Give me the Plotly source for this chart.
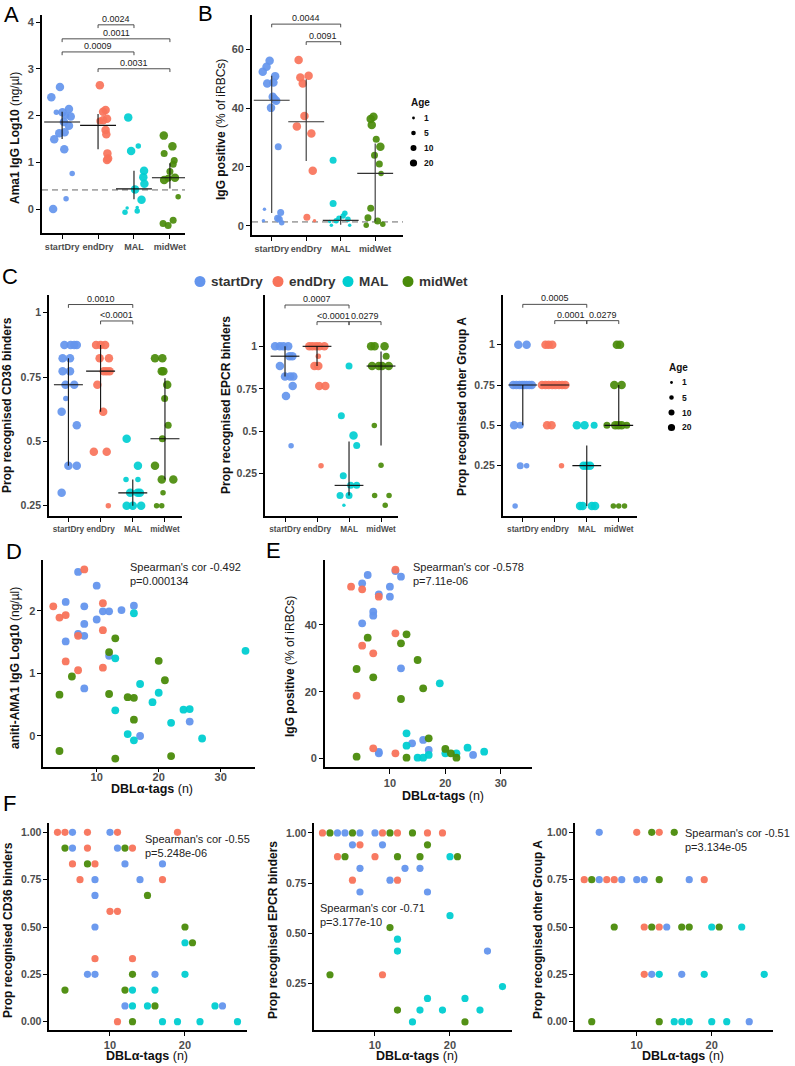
import plotly.graph_objects as go

W, H = 795, 1066
FONT = "Liberation Sans, Arial, Helvetica, sans-serif"
GROUPS = ["startDry", "endDry", "MAL", "midWet"]
COLORS = ["#6495ED", "#F8735A", "#00CED1", "#4A8B0A"]
AGE_LEVELS = [1, 5, 10, 20]
AGE_SIZE = {1: 3.5, 5: 5.5, 10: 7, 20: 8.5}

# ---------------- Panel A: Ama1 IgG Log10 (value, jitter, age) ----------------
A_startDry = [(2.61, -0.06, 20), (2.39, -0.30, 20), (2.14, 0.19, 20), (2.07, 0.01, 20), (2.07, -0.16, 5),
              (1.98, 0.24, 20), (2.00, 0.10, 10), (1.86, 0.05, 20), (1.78, 0.19, 20), (1.64, 0.07, 20),
              (1.62, -0.08, 20), (1.49, -0.22, 20), (1.28, 0.06, 20), (0.76, 0.28, 5), (0.22, 0.11, 5),
              (0.00, -0.25, 20)]
A_endDry = [(2.65, 0.05, 20), (2.12, 0.21, 20), (2.08, 0.14, 20), (1.93, 0.25, 20), (1.90, 0.14, 20),
            (1.88, 0.05, 10), (1.69, 0.21, 20), (1.60, 0.23, 20), (1.19, 0.26, 20), (1.08, 0.28, 20),
            (1.05, 0.25, 20)]
A_MAL = [(1.96, -0.16, 20), (1.35, 0.12, 5), (1.24, -0.08, 20), (0.82, 0.28, 20), (0.68, 0.26, 20),
         (0.54, 0.29, 20), (0.42, 0.03, 20), (0.20, 0.21, 20), (0.02, -0.19, 1), (0.03, 0.09, 1),
         (-0.04, 0.09, 5), (-0.07, -0.25, 5)]
A_midWet = [(1.57, -0.17, 20), (1.34, 0.07, 20), (1.19, -0.16, 10), (1.04, 0.12, 10), (0.96, 0.09, 10),
            (0.80, 0.00, 10), (0.67, 0.14, 20), (0.66, -0.05, 10), (0.62, -0.16, 20), (0.26, 0.23, 5),
            (-0.24, 0.09, 10), (-0.31, -0.19, 10), (-0.35, -0.05, 10)]
A_median = [1.86, 1.79, 0.43, 0.67]
A_low = [1.50, 1.28, 0.21, 0.44]
A_high = [2.08, 2.03, 0.82, 0.98]
A_cutoff = 0.41
A_pvals = [(1, 2, 3.94, "0.0024"), (0, 3, 3.64, "0.0011"), (0, 2, 3.36, "0.0009"), (1, 3, 3.00, "0.0031")]

# ---------------- Panel B: IgG positive % ----------------
B_startDry = [(56.1, -0.06, 20), (54.1, -0.15, 20), (52.4, -0.26, 20), (50.9, 0.10, 20), (48.4, -0.13, 20),
              (48.7, 0.05, 20), (43.9, 0.03, 20), (43.1, 0.08, 20), (42.5, 0.13, 20), (40.1, -0.02, 20),
              (26.9, 0.19, 10), (5.6, -0.21, 1), (4.5, 0.26, 10), (2.5, 0.17, 10), (2.2, 0.22, 10),
              (1.7, -0.24, 1), (1.0, 0.29, 5)]
B_endDry = [(56.4, -0.22, 20), (50.4, -0.17, 20), (51.0, 0.07, 20), (48.4, -0.10, 20), (37.3, -0.05, 20),
            (33.8, -0.27, 20), (31.4, 0.15, 20), (18.7, 0.19, 20), (2.9, 0.02, 10), (1.7, 0.24, 1)]
B_MAL = [(22.3, -0.22, 10), (7.6, -0.22, 10), (4.2, 0.12, 5), (3.3, 0.07, 5), (2.5, -0.05, 5),
         (2.2, 0.21, 5), (1.7, -0.13, 5), (1.4, -0.32, 1), (0.2, -0.27, 1), (0.2, 0.26, 1)]
B_midWet = [(36.3, -0.13, 20), (37.1, -0.05, 20), (34.3, -0.10, 20), (29.4, 0.03, 10), (26.9, 0.15, 20),
            (24.0, -0.02, 10), (21.0, 0.12, 10), (17.8, 0.17, 5), (5.9, -0.13, 10), (2.7, -0.21, 10),
            (1.6, 0.07, 10), (0.2, -0.26, 5), (0.5, 0.22, 5)]
B_median = [42.7, 35.4, 1.8, 17.8]
B_low = [4.3, 22.0, 0.3, 1.5]
B_high = [51.0, 49.8, 3.3, 28.0]
B_cutoff = 1.3
B_pvals = [(0, 2, 68.6, "0.0044"), (1, 2, 62.6, "0.0091")]

# ---------------- Panel C: CD36 ----------------
CD36_startDry = [(0.875, -0.125, 20), (0.875, 0.07, 20), (0.875, 0.18, 20), (0.875, 0.26, 20), (0.823, -0.18, 20),
                 (0.823, 0.05, 20), (0.773, -0.18, 20), (0.773, 0.05, 20), (0.72, -0.09, 20), (0.72, 0.18, 20),
                 (0.667, -0.08, 5), (0.615, -0.21, 20), (0.563, 0.26, 20), (0.405, 0.0, 20), (0.405, 0.26, 20),
                 (0.30, -0.21, 20)]
CD36_endDry = [(0.875, -0.14, 20), (0.875, 0.0, 20), (0.875, 0.14, 20), (0.823, -0.03, 20), (0.823, 0.26, 20),
               (0.773, 0.10, 20), (0.773, 0.19, 20), (0.773, 0.28, 20), (0.72, -0.10, 20), (0.615, 0.08, 20),
               (0.46, -0.21, 20), (0.46, 0.19, 20), (0.25, 0.24, 5)]
CD36_MAL = [(0.51, -0.19, 20), (0.405, 0.16, 20), (0.352, -0.21, 5), (0.352, 0.16, 5), (0.30, -0.08, 20),
            (0.30, 0.15, 20), (0.30, 0.22, 20), (0.25, -0.19, 20), (0.25, 0.0, 20), (0.25, 0.26, 20)]
CD36_midWet = [(0.823, -0.31, 20), (0.823, -0.08, 20), (0.773, -0.10, 20), (0.773, -0.05, 20), (0.72, 0.07, 20),
               (0.667, -0.01, 10), (0.563, 0.10, 10), (0.51, -0.08, 10), (0.405, -0.31, 20), (0.352, -0.10, 20),
               (0.352, 0.26, 20), (0.30, -0.06, 5), (0.25, -0.26, 5), (0.25, -0.10, 5)]
CD36_median = [0.72, 0.773, 0.30, 0.51]
CD36_low = [0.405, 0.615, 0.25, 0.352]
CD36_high = [0.823, 0.875, 0.352, 0.745]
CD36_pvals = [(0, 2, 1.032, "0.0010"), (1, 2, 0.968, "&lt;0.0001")]

# ---------------- Panel C: EPCR ----------------
EPCR_startDry = [(1.0, -0.31, 20), (1.0, -0.16, 20), (1.0, -0.05, 20), (1.0, 0.10, 20), (0.942, 0.14, 20),
                 (0.942, 0.23, 20), (0.884, -0.16, 20), (0.822, 0.0, 20), (0.822, 0.16, 20), (0.822, 0.26, 20),
                 (0.767, 0.24, 20), (0.708, 0.03, 20), (0.415, 0.19, 5)]
EPCR_endDry = [(1.0, -0.24, 20), (1.0, -0.14, 20), (1.0, -0.03, 20), (1.0, 0.07, 20), (1.0, 0.23, 20),
               (0.942, 0.04, 5), (0.884, -0.08, 20), (0.884, 0.04, 20), (0.767, 0.07, 20), (0.767, 0.26, 20),
               (0.297, 0.125, 5)]
EPCR_MAL = [(0.884, 0.0, 10), (0.591, -0.24, 10), (0.476, 0.14, 20), (0.417, 0.24, 10), (0.239, -0.18, 10),
            (0.182, 0.05, 10), (0.182, 0.24, 10), (0.123, -0.28, 10), (0.123, 0.0, 10), (0.065, -0.16, 1)]
EPCR_midWet = [(1.0, -0.31, 20), (1.0, -0.20, 20), (1.0, 0.11, 20), (0.942, 0.16, 10), (0.884, -0.28, 20),
               (0.884, -0.07, 20), (0.884, 0.03, 20), (0.884, 0.24, 20), (0.534, -0.21, 5), (0.30, 0.0, 5),
               (0.123, -0.20, 5), (0.123, 0.25, 5), (0.065, 0.13, 5)]
EPCR_median = [0.942, 1.0, 0.182, 0.884]
EPCR_low = [0.822, 0.884, 0.123, 0.417]
EPCR_high = [1.0, 1.0, 0.44, 0.97]
EPCR_pvals = [(0, 2, 1.243, "0.0007"), (1, 2, 1.145, "&lt;0.0001"), (2, 3, 1.145, "0.0279")]

# ---------------- Panel C: other Group A ----------------
OTH_startDry = [(1.0, -0.14, 20), (1.0, 0.12, 20), (0.75, -0.30, 20), (0.75, -0.20, 20), (0.75, -0.10, 20),
                (0.75, -0.02, 20), (0.75, 0.05, 20), (0.75, 0.12, 20), (0.75, 0.20, 20), (0.75, 0.28, 20),
                (0.5, -0.27, 20), (0.5, -0.08, 10), (0.25, -0.08, 10), (0.25, 0.12, 5), (0.0, -0.24, 5)]
OTH_endDry = [(1.0, -0.29, 20), (1.0, -0.19, 20), (1.0, -0.08, 20), (0.75, -0.40, 20), (0.75, -0.29, 20),
              (0.75, -0.19, 20), (0.75, -0.08, 20), (0.75, 0.02, 20), (0.75, 0.13, 20), (0.75, 0.23, 20),
              (0.75, 0.33, 20), (0.5, -0.24, 20), (0.5, -0.10, 20), (0.25, 0.21, 5)]
OTH_MAL = [(0.5, -0.31, 20), (0.5, -0.07, 20), (0.5, 0.23, 10), (0.25, -0.10, 20), (0.25, 0.0, 20),
           (0.25, 0.10, 20), (0.0, -0.21, 20), (0.0, -0.13, 20), (0.0, 0.16, 20), (0.0, 0.26, 20)]
OTH_midWet = [(1.0, -0.06, 20), (1.0, 0.04, 20), (0.75, -0.14, 20), (0.75, 0.09, 20), (0.5, -0.37, 10),
              (0.5, -0.11, 20), (0.5, -0.01, 20), (0.5, 0.09, 20), (0.5, 0.25, 10), (0.0, -0.17, 5),
              (0.0, 0.0, 5), (0.0, 0.18, 5)]
OTH_median = [0.75, 0.75, 0.25, 0.5]
OTH_low = [0.5, 0.75, 0.0, 0.5]
OTH_high = [0.75, 0.75, 0.375, 0.75]
OTH_pvals = [(0, 2, 1.25, "0.0005"), (1, 2, 1.149, "0.0001"), (2, 3, 1.149, "0.0279")]

# ---------------- Panel D: DBLa tags vs AMA1 ----------------
D_startDry = [(7, 2.62), (5, 2.14), (5, 1.51), (10, 2.40), (8, 2.07), (8, 1.79), (8, 1.60), (7, 1.63), (10, 1.86),
              (11, 1.99), (12, 1.99), (14, 2.01), (16, 2.08), (12, 1.28), (8, 0.76), (17, 0.0), (25, 0.23)]
D_endDry = [(8, 2.66), (3, 2.07), (4, 1.89), (5, 1.93), (11, 2.12), (11, 1.69), (7, 1.60), (5, 1.19), (7, 1.05),
            (11, 1.09)]
D_MAL = [(16, 1.96), (34, 1.36), (13, 1.24), (17, 0.83), (20, 0.69), (19, 0.54), (24, 0.42), (25, 0.43), (13, 0.41),
         (22, 0.21), (15, 0.03), (16, -0.07), (27, -0.04)]
D_midWet = [(13, 1.56), (12, 1.34), (20, 1.20), (6, 0.95), (21, 0.89), (12, 0.67), (4, 0.66), (15, 0.62), (16, 0.61),
            (16, 0.26), (4, -0.24), (13, -0.36), (22, -0.32)]

# ---------------- Panel E: DBLa tags vs IgG positive ----------------
E_startDry = [(5, 52.5), (6, 55.0), (5, 40.5), (7, 44.0), (7, 42.8), (8, 49.2), (10, 51.5), (10, 48.5), (11, 56.2),
              (12, 54.5), (12, 27.0), (16, 5.5), (14, 4.5), (17, 2.5), (8, 1.9), (8, 1.5), (25, 1.0)]
E_endDry = [(11, 56.6), (3, 51.5), (5, 50.7), (8, 48.5), (11, 37.5), (5, 33.8), (7, 31.5), (4, 18.8), (7, 3.0),
            (11, 1.5)]
E_MAL = [(19, 22.5), (13, 7.5), (13, 3.8), (17, 1.0), (15, 0.2), (16, 0.2), (20, 1.5), (22, 1.5), (24, 3.2),
         (27, 2.0)]
E_midWet = [(13, 37.2), (6, 36.2), (12, 34.5), (15, 29.5), (4, 26.8), (7, 24.3), (16, 21.0), (12, 17.8), (17, 6.0),
            (20, 2.8), (21, 1.5), (4, 0.5), (13, 0.2), (22, 0.2)]

# ---------------- Panel F ----------------
F1_startDry = [(5, 1.0), (10, 1.0), (5, 0.917), (11, 0.917), (12, 0.833), (17, 0.833), (8, 0.75), (14, 0.75),
               (8, 0.667), (8, 0.5), (7, 0.25), (8, 0.25), (16, 0.25), (12, 0.083), (25, 0.083)]
F1_endDry = [(3, 1.0), (4, 1.0), (7, 1.0), (11, 1.0), (19, 1.0), (7, 0.917), (13, 0.917), (5, 0.833), (8, 0.833),
             (6, 0.75), (17, 0.75), (10, 0.583), (11, 0.583), (8, 0.333), (13, 0.333), (11, 0.0)]
F1_MAL = [(20, 0.417), (20, 0.25), (13, 0.167), (16, 0.167), (13, 0.083), (15, 0.083), (24, 0.083), (17, 0.0),
          (19, 0.0), (22, 0.0), (27, 0.0)]
F1_midWet = [(4, 0.917), (12, 0.917), (7, 0.833), (15, 0.667), (20, 0.5), (21, 0.417), (13, 0.25), (4, 0.167),
             (12, 0.167), (16, 0.083), (13, 0.0)]

F2_startDry = [(5, 1.0), (6, 1.0), (8, 1.0), (10, 1.0), (7, 0.941), (11, 0.941), (8, 0.824), (14, 0.824),
               (16, 0.824), (12, 0.765), (8, 0.706), (17, 0.706), (25, 0.412)]
F2_endDry = [(3, 1.0), (11, 1.0), (13, 1.0), (17, 1.0), (19, 1.0), (8, 0.941), (5, 0.882), (10, 0.882), (7, 0.765),
             (13, 0.765), (11, 0.294)]
F2_MAL = [(20, 0.882), (20, 0.588), (13, 0.471), (13, 0.412), (27, 0.235), (17, 0.176), (22, 0.176), (16, 0.118),
          (19, 0.118), (24, 0.118), (15, 0.059)]
F2_midWet = [(4, 1.0), (7, 1.0), (12, 1.0), (15, 1.0), (17, 0.941), (6, 0.882), (13, 0.882), (16, 0.882), (21, 0.882),
             (12, 0.529), (4, 0.294), (13, 0.118), (22, 0.059)]

F3_startDry = [(5, 1.0), (5, 0.75), (8, 0.75), (10, 0.75), (11, 0.75), (17, 0.75), (14, 0.5), (12, 0.25), (16, 0.25),
               (25, 0.0)]
F3_endDry = [(10, 1.0), (13, 1.0), (3, 0.75), (6, 0.75), (7, 0.75), (19, 0.75), (11, 0.5), (13, 0.5), (11, 0.25)]
F3_MAL = [(20, 0.5), (24, 0.5), (13, 0.25), (19, 0.25), (27, 0.25), (15, 0.0), (16, 0.0), (17, 0.0), (20, 0.0),
          (22, 0.0)]
F3_midWet = [(12, 1.0), (15, 1.0), (4, 0.75), (13, 0.75), (7, 0.5), (12, 0.5), (16, 0.5), (17, 0.5), (21, 0.5),
             (4, 0.0), (13, 0.0)]

SPEARMAN = {"D": "Spearman's cor -0.492<br>p=0.000134", "E": "Spearman's cor -0.578<br>p=7.11e-06",
            "F1": "Spearman's cor -0.55<br>p=5.248e-06", "F2": "Spearman's cor -0.71<br>p=3.177e-10",
            "F3": "Spearman's cor -0.51<br>p=3.134e-05"}

# =====================================================================
fig = go.Figure()
_axn = [0]
TICKFONT_COLOR = "#4D4D4D"


def new_axes(l, r, t, b, xr, yr, xtv, xtt, ytv, ytt, xfs=9.5, yfs=10.5, xstand=None, xticklen=4):
    _axn[0] += 1
    i = _axn[0]
    sfx = "" if i == 1 else str(i)
    common = dict(showline=True, linecolor="black", linewidth=1.7, ticks="outside",
                  tickwidth=1.4, tickcolor="black", showgrid=False, zeroline=False, tickmode="array",
                  fixedrange=True)
    xa = dict(domain=[l / W, r / W], range=xr, anchor="y" + sfx, tickvals=xtv, ticktext=xtt, tickangle=0,
              ticklen=xticklen,
              tickfont=dict(family=FONT, size=xfs, color=TICKFONT_COLOR, weight="bold"), **common)
    if xstand is not None:
        xa["ticklabelstandoff"] = xstand
    fig.layout["xaxis" + sfx] = xa
    fig.layout["yaxis" + sfx] = dict(domain=[1 - b / H, 1 - t / H], range=yr, anchor="x" + sfx,
                                     tickvals=ytv, ticktext=ytt, ticklen=4,
                                     tickfont=dict(family=FONT, size=yfs, color=TICKFONT_COLOR, weight="bold"),
                                     **common)
    return "x" + sfx, "y" + sfx


def dot_panel(xa, ya, lists, med, lo, hi, halfw, lcol, lw):
    for gi, pts in enumerate(lists):
        fig.add_trace(go.Scatter(x=[gi + p[1] for p in pts], y=[p[0] for p in pts], mode="markers",
                                 marker=dict(color=COLORS[gi], size=[AGE_SIZE[p[2]] for p in pts],
                                             opacity=0.92, line=dict(width=0)),
                                 xaxis=xa, yaxis=ya, showlegend=False, hoverinfo="skip"))
    for gi in range(4):
        fig.add_trace(go.Scatter(x=[gi, gi, None, gi - halfw, gi + halfw],
                                 y=[lo[gi], hi[gi], None, med[gi], med[gi]], mode="lines",
                                 line=dict(color=lcol, width=lw), xaxis=xa, yaxis=ya,
                                 showlegend=False, hoverinfo="skip"))


def cutoff_line(xa, ya, xr, v):
    fig.add_trace(go.Scatter(x=list(xr), y=[v, v], mode="lines",
                             line=dict(color="#A8A8A8", width=1.6, dash="6px,4px"),
                             xaxis=xa, yaxis=ya, showlegend=False, hoverinfo="skip"))


def brackets(xa, ya, comps, tick):
    for g1, g2, lev, lab in comps:
        fig.add_shape(type="path",
                      path=f"M {g1},{lev - tick} L {g1},{lev} L {g2},{lev} L {g2},{lev - tick}",
                      xref=xa, yref=ya, line=dict(color="#3a3a3a", width=0.9))
        fig.add_annotation(x=(g1 + g2) / 2, y=lev, xref=xa, yref=ya, text=lab, showarrow=False,
                           yanchor="bottom", yshift=-1, font=dict(family=FONT, size=9, color="#222"))


def scatter_panel(xa, ya, lists, size=7.5):
    for gi, pts in enumerate(lists):
        fig.add_trace(go.Scatter(x=[p[0] for p in pts], y=[p[1] for p in pts], mode="markers",
                                 marker=dict(color=COLORS[gi], size=size, opacity=0.95, line=dict(width=0)),
                                 xaxis=xa, yaxis=ya, showlegend=False, hoverinfo="skip"))


def ptext(px, py, text, size, xanchor="center", yanchor="middle", angle=0, color="#111", weight="normal",
          align="center"):
    fig.add_annotation(x=px / W, y=1 - py / H, xref="paper", yref="paper", text=text, showarrow=False,
                       xanchor=xanchor, yanchor=yanchor, textangle=angle, align=align,
                       font=dict(family=FONT, size=size, color=color, weight=weight))


CAT = [0, 1, 2, 3]

# ---- A ----
xr = [-0.56, 3.42]
xa, ya = new_axes(42, 185, 15, 233, xr, [-0.513, 4.15], CAT, GROUPS, [0, 1, 2, 3, 4], ["0", "1", "2", "3", "4"],
                  xfs=9, yfs=11)
cutoff_line(xa, ya, xr, A_cutoff)
dot_panel(xa, ya, [A_startDry, A_endDry, A_MAL, A_midWet], A_median, A_low, A_high, 0.5, "#111", 1.1)
brackets(xa, ya, A_pvals, 0.07)

# ---- B ----
xr = [-0.571, 3.806]
xa, ya = new_axes(252, 403, 15, 235, xr, [-3.16, 71.7], CAT, GROUPS, [0, 20, 40, 60], ["0", "20", "40", "60"],
                  xfs=9, yfs=11)
cutoff_line(xa, ya, xr, B_cutoff)
dot_panel(xa, ya, [B_startDry, B_endDry, B_MAL, B_midWet], B_median, B_low, B_high, 0.52, "#333", 1.1)
brackets(xa, ya, B_pvals, 1.1)

# ---- C: CD36 ----
yt = [0.25, 0.5, 0.75, 1]
ytt = ["0.25", "0.5", "0.75", "1"]
xa, ya = new_axes(49, 181.7, 295, 516, [-0.603, 3.52], [0.21, 1.069], CAT, GROUPS, yt, ytt, xfs=8.2, yfs=10.5)
dot_panel(xa, ya, [CD36_startDry, CD36_endDry, CD36_MAL, CD36_midWet], CD36_median, CD36_low, CD36_high,
          0.45, "#111", 1.1)
brackets(xa, ya, CD36_pvals, 0.013)

# ---- C: EPCR ----
xa, ya = new_axes(265, 398, 295, 516, [-0.625, 3.53], [0.0018, 1.302], CAT, GROUPS, yt, ytt, xfs=8.2, yfs=10.5)
dot_panel(xa, ya, [EPCR_startDry, EPCR_endDry, EPCR_MAL, EPCR_midWet], EPCR_median, EPCR_low, EPCR_high,
          0.45, "#111", 1.1)
brackets(xa, ya, EPCR_pvals, 0.02)

# ---- C: other group A ----
xa, ya = new_axes(502.7, 637, 295, 516, [-0.628, 3.57], [-0.062, 1.308], CAT, GROUPS, yt, ytt, xfs=8.2, yfs=10.5)
dot_panel(xa, ya, [OTH_startDry, OTH_endDry, OTH_MAL, OTH_midWet], OTH_median, OTH_low, OTH_high,
          0.45, "#111", 1.1)
brackets(xa, ya, OTH_pvals, 0.021)

# ---- D ----
xa, ya = new_axes(43.3, 255, 560, 767.3, [1.39, 35.53], [-0.5, 2.81], [10, 20, 30], ["10", "20", "30"],
                  [0, 1, 2], ["0", "1", "2"], xfs=11, yfs=11, xstand=-4, xticklen=3)
scatter_panel(xa, ya, [D_startDry, D_endDry, D_MAL, D_midWet], 7.8)

# ---- E ----
xa, ya = new_axes(325, 531.7, 560, 767.3, [-1.7, 35.57], [-2.7, 59.5], [10, 20, 30], ["10", "20", "30"],
                  [0, 20, 40], ["0", "20", "40"], xfs=11, yfs=11, xticklen=5)
scatter_panel(xa, ya, [E_startDry, E_endDry, E_MAL, E_midWet], 7.8)

# ---- F ----
fy = [0, 0.25, 0.5, 0.75, 1.0]
fyt = ["0.00", "0.25", "0.50", "0.75", "1.00"]
xa, ya = new_axes(49.3, 246.7, 822.7, 1030, [1.91, 28.23], [-0.044, 1.051], [10, 20], ["10", "20"], fy, fyt,
                  xfs=11, yfs=10.5)
scatter_panel(xa, ya, [F1_startDry, F1_endDry, F1_MAL, F1_midWet], 7.2)
xa, ya = new_axes(314.3, 511.7, 822.7, 1030, [1.91, 28.23], [0.019, 1.051], [10, 20], ["10", "20"], fy, fyt,
                  xfs=11, yfs=10.5)
scatter_panel(xa, ya, [F2_startDry, F2_endDry, F2_MAL, F2_midWet], 7.2)
xa, ya = new_axes(575.3, 772.7, 822.7, 1030, [1.81, 28.13], [-0.044, 1.051], [10, 20], ["10", "20"], fy, fyt,
                  xfs=11, yfs=10.5)
scatter_panel(xa, ya, [F3_startDry, F3_endDry, F3_MAL, F3_midWet], 7.2)

# ---- panel letters ----
for letter, lx, ly in [("A", 2, 15), ("B", 196, 13), ("C", 0, 276), ("D", 4, 551), ("E", 264, 550), ("F", 1, 803)]:
    ptext(lx, ly, letter, 22, xanchor="left", color="#000")

# ---- axis titles ----
ptext(15, 138, "<b>Ama1 IgG Log10</b> (ng/µl)", 12, angle=-90)
ptext(221, 130, "<b>IgG positive</b> (% of iRBCs)", 12, angle=-90)
ptext(7, 405, "<b>Prop recognised CD36 binders</b>", 12, angle=-90)
ptext(226, 405, "<b>Prop recognised EPCR binders</b>", 12, angle=-90)
ptext(462, 407, "<b>Prop recognised other Group A</b>", 12, angle=-90)
ptext(15, 668, "<b>aniti-AMA1 IgG Log10</b> (ng/µl)", 12, angle=-90)
ptext(290, 667, "<b>IgG positive</b> (% of iRBCs)", 12, angle=-90)
ptext(8, 930, "<b>Prop recognised CD36 binders</b>", 12, angle=-90)
ptext(273, 930, "<b>Prop recognised EPCR binders</b>", 12, angle=-90)
ptext(538, 930, "<b>Prop recognised other Group A</b>", 12, angle=-90)
ptext(152, 789, "<b>DBLα-tags</b> (n)", 12.5)
ptext(443, 796, "<b>DBLα-tags</b> (n)", 12.5)
for cx in [147, 417, 683]:
    ptext(cx, 1056, "<b>DBLα-tags</b> (n)", 12.5)

# ---- Spearman texts ----
ptext(128, 573.5, SPEARMAN["D"], 11, xanchor="left", color="#222", align="left")
ptext(410.5, 573.5, SPEARMAN["E"], 11, xanchor="left", color="#222", align="left")
ptext(142.5, 845.5, SPEARMAN["F1"], 11, xanchor="left", color="#222", align="left")
ptext(318, 914.5, SPEARMAN["F2"], 11, xanchor="left", color="#222", align="left")
ptext(683, 839.5, SPEARMAN["F3"], 11, xanchor="left", color="#222", align="left")

# ---- group legend (C) ----
for (g, c, dx) in zip(GROUPS, COLORS, [200, 278, 348, 408]):
    fig.add_shape(type="circle", xref="paper", yref="paper", x0=(dx - 5.5) / W, x1=(dx + 5.5) / W,
                  y0=1 - (281.5 + 5.5) / H, y1=1 - (281.5 - 5.5) / H, fillcolor=c, line=dict(width=0))
    ptext(dx + 9, 281.5, g, 13.5, xanchor="left", color="#333", weight="bold")

# ---- Age legends ----
for ax0, ay0 in [(409, 103), (667, 367.5)]:
    ptext(ax0, ay0, "Age", 10, xanchor="left", color="#111", weight="bold")
    for k, (age, dy) in enumerate(zip(AGE_LEVELS, [15, 30, 45, 60])):
        r = [1.4, 2.3, 3.0, 3.6][k]
        cx, cy = ax0 + 4.5, ay0 + dy
        fig.add_shape(type="circle", xref="paper", yref="paper", x0=(cx - r) / W, x1=(cx + r) / W,
                      y0=1 - (cy + r) / H, y1=1 - (cy - r) / H, fillcolor="#000", line=dict(width=0))
        ptext(ax0 + 13, cy, str(age), 8.5, xanchor="left", color="#111", weight="bold")

fig.update_layout(width=W, height=H, margin=dict(l=0, r=0, t=0, b=0), paper_bgcolor="white",
                  plot_bgcolor="white", showlegend=False, font=dict(family=FONT))
fig.write_html("out.html")
